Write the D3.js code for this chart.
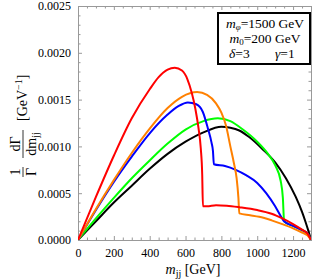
<!DOCTYPE html>
<html>
<head>
<meta charset="utf-8">
<script src="https://cdn.jsdelivr.net/npm/d3@7"></script>
<style>
  body { margin: 0; background: #fff; }
  text { font-family: "Liberation Serif", "DejaVu Serif", serif; }
</style>
</head>
<body>
<div id="chart"></div>
<script>
// m_jj values [GeV] and 1/Γ dΓ/dm_jj values
const redX = [0, 100, 200, 300, 400, 450, 500, 540, 580, 610, 635, 655, 672, 685, 693, 697, 720, 770, 830, 900, 1000, 1080, 1140, 1200, 1250, 1280, 1300];
const redY = [0, 0.00046, 0.0009, 0.0013, 0.00161, 0.00174, 0.00182, 0.00184, 0.00181, 0.00172, 0.00157, 0.0014, 0.0012, 0.00098, 0.0007, 0.00036, 0.00036, 0.000372, 0.000366, 0.00035, 0.00032, 0.00028, 0.00023, 0.00017, 0.00011, 0.00007, 0];

const orangeX = [0, 100, 200, 300, 400, 500, 580, 665, 720, 770, 800, 826, 850, 870, 885, 895, 900, 960, 1011, 1080, 1140, 1200, 1250, 1280, 1300];
const orangeY = [0, 0.00033, 0.00064, 0.00093, 0.00119, 0.00141, 0.00153, 0.00158, 0.00155, 0.00146, 0.00136, 0.00122, 0.001, 0.00082, 0.00066, 0.00045, 0.000284, 0.000265, 0.000248, 0.00021, 0.00017, 0.000125, 0.00008, 0.00005, 0];

const blueX = [0, 100, 200, 300, 400, 500, 560, 613, 660, 696, 725, 745, 753, 758, 820, 880, 940, 1000, 1050, 1100, 1130, 1150, 1200, 1250, 1280, 1300];
const blueY = [0, 0.00032, 0.00062, 0.00089, 0.00114, 0.00134, 0.00143, 0.00147, 0.00145, 0.00137, 0.00119, 0.00104, 0.00095, 0.00081, 0.00079, 0.00075, 0.00069, 0.00061, 0.0005, 0.00036, 0.00026, 0.0002, 0.00015, 0.000105, 0.00007, 0];

const greenX = [0, 100, 200, 300, 400, 500, 600, 700, 780, 850, 920, 1000, 1060, 1100, 1131, 1143, 1150, 1200, 1250, 1280, 1300];
const greenY = [0, 0.00023, 0.00045, 0.00066, 0.00085, 0.00103, 0.00118, 0.00127, 0.0013, 0.00127, 0.00118, 0.00105, 0.00092, 0.0008, 0.00063, 0.00045, 0.0002, 0.00015, 0.000105, 0.00007, 0];

const blackX = [0, 100, 200, 300, 400, 500, 600, 700, 800, 850, 900, 955, 1030, 1100, 1160, 1215, 1250, 1270, 1285, 1300];
const blackY = [0, 0.0002, 0.0004, 0.00058, 0.00076, 0.00092, 0.00105, 0.00115, 0.00121, 0.0012, 0.00117, 0.0011, 0.00097, 0.00083, 0.00066, 0.00046, 0.0003, 0.00019, 0.0001, 0];

const xMajor = [0, 200, 400, 600, 800, 1000, 1200];
const yMajor = [0, 0.0005, 0.001, 0.0015, 0.002, 0.0025];

const series = [
  { color: "#000000", xs: blackX, ys: blackY },
  { color: "#00ff00", xs: greenX, ys: greenY },
  { color: "#0000ff", xs: blueX, ys: blueY },
  { color: "#ff8000", xs: orangeX, ys: orangeY },
  { color: "#ff0000", xs: redX, ys: redY }
];

let W = 312, H = 280;
let margin = { top: 6, right: 1, bottom: 40, left: 78 },
  width = W - margin.left - margin.right,
  height = H - margin.top - margin.bottom;

let svg = d3.select("#chart")
  .append("svg")
  .attr("width", W)
  .attr("height", H);

let g = svg.append("g")
  .attr("transform", "translate(" + margin.left + "," + margin.top + ")");

let x = d3.scaleLinear().domain([0, 1300]).range([0, width]);
let y = d3.scaleLinear().domain([0, 0.0025]).range([height, 0]);

const frameColor = "#999";
const xMinor = d3.range(0, 1301, 50).filter(v => v % 200 !== 0);
const yMinor = d3.range(0, 26).map(i => i / 10000).filter((v, i) => i % 5 !== 0);

function styleAxis(sel) {
  sel.select(".domain").attr("stroke", frameColor);
  sel.selectAll(".tick line").attr("stroke", frameColor);
  sel.selectAll(".tick text")
    .attr("fill", "#000")
    .style("font-family", "'Liberation Serif', serif")
    .style("font-size", "12px");
}

// bottom
g.append("g").attr("transform", "translate(0," + height + ")")
  .call(d3.axisBottom(x).tickValues(xMajor).tickSize(-4).tickPadding(8).tickFormat(d3.format("d")))
  .call(styleAxis);
g.append("g").attr("transform", "translate(0," + height + ")")
  .call(d3.axisBottom(x).tickValues(xMinor).tickSize(-2.5).tickFormat(""))
  .call(styleAxis);
// top
g.append("g")
  .call(d3.axisTop(x).tickValues(xMajor).tickSize(-4).tickFormat(""))
  .call(styleAxis);
g.append("g")
  .call(d3.axisTop(x).tickValues(xMinor).tickSize(-2.5).tickFormat(""))
  .call(styleAxis);
// left
g.append("g")
  .call(d3.axisLeft(y).tickValues(yMajor).tickSize(-4).tickPadding(7).tickFormat(d3.format(".4f")))
  .call(styleAxis);
g.append("g")
  .call(d3.axisLeft(y).tickValues(yMinor).tickSize(-2.5).tickFormat(""))
  .call(styleAxis);
// right
g.append("g").attr("transform", "translate(" + width + ",0)")
  .call(d3.axisRight(y).tickValues(yMajor).tickSize(-4).tickFormat(""))
  .call(styleAxis);
g.append("g").attr("transform", "translate(" + width + ",0)")
  .call(d3.axisRight(y).tickValues(yMinor).tickSize(-2.5).tickFormat(""))
  .call(styleAxis);

g.selectAll(".domain").attr("stroke-width", 1);

// curves
g.append("clipPath").attr("id", "clip")
  .append("rect").attr("x", 0).attr("y", 0).attr("width", width).attr("height", height);

let line = d3.line()
  .x(d => x(d[0]))
  .y(d => y(d[1]))
  .curve(d3.curveMonotoneX);

g.append("g").attr("clip-path", "url(#clip)")
  .selectAll("path")
  .data(series)
  .enter()
  .append("path")
  .attr("fill", "none")
  .attr("stroke", d => d.color)
  .attr("stroke-width", 2)
  .attr("stroke-linejoin", "round")
  .attr("d", d => line(d.xs.map((v, i) => [v, d.ys[i]])));

// legend box
let leg = svg.append("g");
leg.append("rect")
  .attr("x", 218).attr("y", 13).attr("width", 92).attr("height", 51)
  .attr("fill", "#fff").attr("stroke", "#000").attr("stroke-width", 2);

let t1 = leg.append("text").attr("x", 265).attr("y", 28).attr("text-anchor", "middle").style("font-size", "13.5px");
t1.append("tspan").style("font-style", "italic").text("m");
t1.append("tspan").attr("dy", 2).style("font-size", "9px").style("font-style", "italic").text("φ");
t1.append("tspan").attr("dy", -2).text("=1500 GeV");

let t2 = leg.append("text").attr("x", 265).attr("y", 43).attr("text-anchor", "middle").style("font-size", "13.5px");
t2.append("tspan").style("font-style", "italic").text("m");
t2.append("tspan").attr("dy", 2).style("font-size", "9px").text("0");
t2.append("tspan").attr("dy", -2).text("=200 GeV");

let t3 = leg.append("text").attr("x", 229).attr("y", 58).style("font-size", "13.5px");
t3.append("tspan").style("font-style", "italic").text("δ");
t3.append("tspan").text("=3");
let t4 = leg.append("text").attr("x", 275).attr("y", 58).style("font-size", "13.5px");
t4.append("tspan").style("font-style", "italic").text("γ");
t4.append("tspan").text("=1");

// x label
let xl = svg.append("text").attr("x", 193).attr("y", 274).attr("text-anchor", "middle").style("font-size", "14px");
xl.append("tspan").style("font-style", "italic").text("m");
xl.append("tspan").attr("dy", 3).style("font-size", "10px").text("jj");
xl.append("tspan").attr("dy", -3).text(" [GeV]");

// y label (rotated)
let yl = svg.append("g").attr("transform", "translate(27,122) rotate(-90)");
function frac(cx, num, den, denSub, w) {
  yl.append("line").attr("x1", cx - w / 2).attr("x2", cx + w / 2).attr("y1", -4).attr("y2", -4)
    .attr("stroke", "#000").attr("stroke-width", 0.8);
  yl.append("text").attr("x", cx).attr("y", -7).attr("text-anchor", "middle").style("font-size", "14px").text(num);
  let dt = yl.append("text").attr("x", cx).attr("y", 8.5).attr("text-anchor", "middle").style("font-size", "14px");
  dt.append("tspan").text(den);
  if (denSub) dt.append("tspan").attr("dy", 3).style("font-size", "10px").text(denSub);
}
frac(-50, "1", "Γ", null, 10);
frac(-22, "dΓ", "dm", "jj", 28);
let gl = yl.append("text").attr("x", 1).attr("y", 0).style("font-size", "14px");
gl.append("tspan").text("[GeV");
gl.append("tspan").attr("dy", -5).style("font-size", "10px").text("−1");
gl.append("tspan").attr("dy", 5).text("]");
</script>
</body>
</html>
